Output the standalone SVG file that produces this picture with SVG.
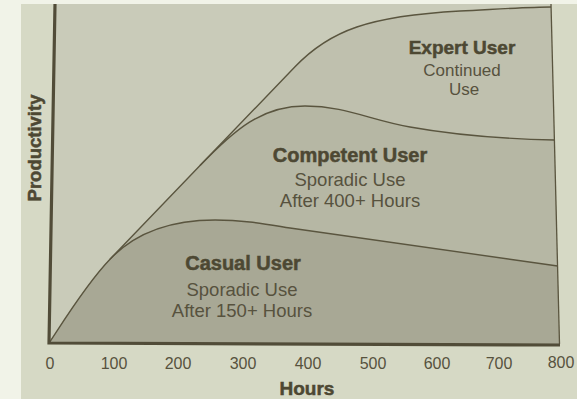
<svg xmlns="http://www.w3.org/2000/svg" width="577" height="399" viewBox="0 0 577 399">
<style>
.curve{fill:none;stroke:#5a553f;stroke-width:1.4;stroke-linejoin:round}
.axis{fill:none;stroke:#514c38;stroke-width:3.2}
.edge{fill:none;stroke:#5a553f;stroke-width:1.3}
.bold{font-family:"Liberation Sans",Arial,sans-serif;font-weight:bold;fill:#4d4833;stroke:#4d4833;stroke-width:0.5;text-anchor:middle}
.reg{font-family:"Liberation Sans",Arial,sans-serif;fill:#57523e;text-anchor:middle}
.tick{font-family:"Liberation Sans",Arial,sans-serif;font-size:16px;fill:#57523e;text-anchor:middle}
</style>
<rect x="0" y="0" width="577" height="399" fill="#f1f3e8"/>
<rect x="21" y="4" width="556" height="395" fill="#d6d9c5"/>
<g id="plot-background">
<polygon points="55,4 551,4 559.5,344 49,343" fill="#c9cbb9"/>
</g>
<g id="expert-region">
<path d="M49,343 C58,330 85,285.2 110,259.2 L295,66.8 C330,30 370,16 460,11 C500,9 530,7 551,7 L559.5,344 Z" fill="#bfc0ae"/>
</g>
<g id="competent-region">
<path d="M49,343 C58,330 85,285.2 110,259.2 L200,165.6 C235,129.2 262,106 305,106 C345,106 370,120 410,127 C460,136 510,139 554.4,140 L559.5,344 Z" fill="#b6b7a4"/>
</g>
<g id="casual-region">
<path d="M49,343 C58,330 85,285.2 110,259.2 C135,233 170,220 215,220 C245,220 265,224 290,228 L557.6,266 L559.5,344 Z" fill="#a8a895"/>
</g>
<g id="connectors">
<path class="curve" d="M49,343 C58,330 85,285.2 110,259.2 L295,66.8 C330,30 370,16 460,11 C500,9 530,7 551,7"/>
<path class="curve" d="M200,165.6 C235,129.2 262,106 305,106 C345,106 370,120 410,127 C460,136 510,139 554.4,140"/>
<path class="curve" d="M110,259.2 C135,233 170,220 215,220 C245,220 265,224 290,228 L557.6,266"/>
<line class="edge" x1="551" y1="4" x2="559.5" y2="344"/>
<polyline class="axis" points="55,4 49,343 560,345"/>
</g>
<g id="expert-label">
<text class="bold" x="462" y="54" font-size="19">Expert User</text>
<text class="reg" x="462" y="76" font-size="17">Continued</text>
<text class="reg" x="464" y="95" font-size="17">Use</text>
</g>
<g id="competent-label">
<text class="bold" x="350" y="162" font-size="20">Competent User</text>
<text class="reg" x="350" y="186" font-size="18.5">Sporadic Use</text>
<text class="reg" x="350" y="207" font-size="18.5">After 400+ Hours</text>
</g>
<g id="casual-label">
<text class="bold" x="243" y="270" font-size="20">Casual User</text>
<text class="reg" x="242" y="296" font-size="18.5">Sporadic Use</text>
<text class="reg" x="242" y="317" font-size="18.5">After 150+ Hours</text>
</g>
<g id="y-axis-label">
<text class="bold" transform="translate(41,148) rotate(-90)" font-size="18.5">Productivity</text>
</g>
<g id="x-axis-ticks">
<text class="tick" x="50" y="369">0</text>
<text class="tick" x="114" y="369">100</text>
<text class="tick" x="178" y="369">200</text>
<text class="tick" x="243" y="369">300</text>
<text class="tick" x="308" y="369">400</text>
<text class="tick" x="373" y="369">500</text>
<text class="tick" x="437" y="369">600</text>
<text class="tick" x="499" y="369">700</text>
<text class="tick" x="561" y="368">800</text>
</g>
<g id="x-axis-label">
<text class="bold" x="307" y="395" font-size="19">Hours</text>
</g>
</svg>
